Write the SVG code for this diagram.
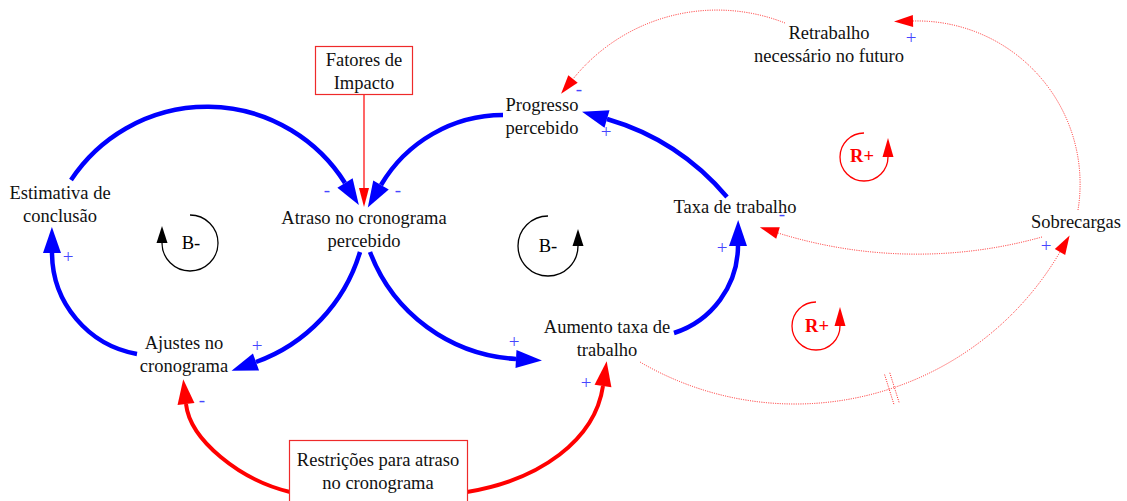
<svg xmlns="http://www.w3.org/2000/svg" width="1127" height="501" viewBox="0 0 1127 501">
  <style>
    .lbl { font-family: "Liberation Serif", "Times New Roman", serif; font-size: 18.5px; fill: #111; text-anchor: middle; }
    .sgn { font-family: "Liberation Serif", "Times New Roman", serif; font-size: 19px; fill: #4646ff; text-anchor: middle; }
    .loop { font-family: "Liberation Serif", "Times New Roman", serif; font-size: 18.5px; text-anchor: middle; }
    .box { fill: #fff; stroke: #ee2a2a; stroke-width: 1.2; }
    .blue { fill: none; stroke: #0000ff; stroke-width: 4.5; stroke-linecap: butt; marker-end: url(#hb); }
    .red { fill: none; stroke: #ff0000; stroke-width: 4; stroke-linecap: butt; marker-end: url(#hr); }
    .dot { fill: none; stroke: #ff2020; stroke-width: 1; stroke-dasharray: 1 1.3; marker-end: url(#hd); }
    .thin { fill: none; stroke: #ff0000; stroke-width: 1.2; marker-end: url(#ht); }
    .delay { fill: none; stroke: #ff2020; stroke-width: 1; stroke-dasharray: 1 1.3; }
    .lb { fill: none; stroke: #000; stroke-width: 1.3; marker-end: url(#hk); }
    .lr { fill: none; stroke: #ff0000; stroke-width: 1.3; marker-end: url(#hkr); }
  </style>
  <defs>
    <marker id="hb" markerUnits="userSpaceOnUse" orient="auto" refX="0" refY="0" markerWidth="30" markerHeight="20" viewBox="0 -10 30 20" overflow="visible">
      <path d="M0,-9 L26,0 L0,9 z" fill="#0000ff"/>
    </marker>
    <marker id="hr" markerUnits="userSpaceOnUse" orient="auto" refX="0" refY="0" markerWidth="30" markerHeight="20" viewBox="0 -10 30 20" overflow="visible">
      <path d="M0,-8.5 L25,0 L0,8.5 z" fill="#ff0000"/>
    </marker>
    <marker id="hd" markerUnits="userSpaceOnUse" orient="auto" refX="0" refY="0" markerWidth="22" markerHeight="14" viewBox="0 -7 22 14" overflow="visible">
      <path d="M0,-6 L19,0 L0,6 z" fill="#ff0000"/>
    </marker>
    <marker id="ht" markerUnits="userSpaceOnUse" orient="auto" refX="0" refY="0" markerWidth="22" markerHeight="12" viewBox="0 -6 22 12" overflow="visible">
      <path d="M0,-5 L19,0 L0,5 z" fill="#ff0000"/>
    </marker>
    <marker id="hk" markerUnits="userSpaceOnUse" orient="auto" refX="0" refY="0" markerWidth="20" markerHeight="12" viewBox="0 -6 20 12" overflow="visible">
      <path d="M0,-5.5 L17,0 L0,5.5 z" fill="#000"/>
    </marker>
    <marker id="hkr" markerUnits="userSpaceOnUse" orient="auto" refX="0" refY="0" markerWidth="22" markerHeight="12" viewBox="0 -6 22 12" overflow="visible">
      <path d="M0,-5.5 L19,0 L0,5.5 z" fill="#ff0000"/>
    </marker>
  </defs>

  <rect width="1127" height="501" fill="#fff"/>

  <!-- causal links -->
  <g id="connectors">
    <!-- balancing loops (blue) -->
    <path class="blue" d="M71,180 A163,163 0 0 1 345,183"/>
    <path class="blue" d="M503,115 A142,142 0 0 0 381,185"/>
    <path class="blue" d="M360,252 A168,168 0 0 1 256,362"/>
    <path class="blue" d="M370,252 A166,166 0 0 0 516,359"/>
    <path class="blue" d="M674,333 A92,92 0 0 0 738,246"/>
    <path class="blue" d="M727,197 A248,248 0 0 0 607,119"/>
    <path class="blue" d="M137,354 A103,103 0 0 1 52,253"/>
    <!-- constraint links (red) -->
    <path class="red" d="M290,492 C240,480 190,440 186,404"/>
    <path class="red" d="M467,492 C540,480 595,440 603,386"/>
    <path class="thin" d="M364,95 L364,188"/>
    <!-- reinforcing links (dotted) -->
    <path class="dot" d="M785,23 A185,185 0 0 0 573,79"/>
    <path class="dot" d="M1078,210 A163,163 0 0 0 913,21"/>
    <path class="dot" d="M1042,237 A466,466 0 0 1 778,233"/>
    <path class="dot" d="M640,362 A307,307 0 0 0 1060,252"/>
    <!-- delay mark -->
    <path class="delay" d="M884.6,374.6 L894.2,405.2 M889.8,372.8 L899.4,403.4"/>

    <!-- polarities -->
    <text class="sgn" x="327" y="196">-</text>
    <text class="sgn" x="398" y="196">-</text>
    <text class="sgn" x="68" y="263">+</text>
    <text class="sgn" x="257" y="352">+</text>
    <text class="sgn" x="202" y="406">-</text>
    <text class="sgn" x="514" y="348">+</text>
    <text class="sgn" x="586" y="389">+</text>
    <text class="sgn" x="722" y="254">+</text>
    <text class="sgn" x="606" y="138">+</text>
    <text class="sgn" x="579" y="95">-</text>
    <text class="sgn" x="911" y="44">+</text>
    <text class="sgn" x="782" y="220">-</text>
    <text class="sgn" x="1046" y="252">+</text>
  </g>

  <!-- loop markers -->
  <g id="loop-b1">
    <path class="lb" d="M190,215 A28,28 0 1 1 162,243"/>
    <text class="loop" x="191" y="249" fill="#000">B-</text>
  </g>
  <g id="loop-b2">
    <path class="lb" d="M548,216 A30,30 0 1 0 578,246"/>
    <text class="loop" x="548" y="252" fill="#000">B-</text>
  </g>
  <g id="loop-r1">
    <path class="lr" d="M864,133 A24,24 0 1 0 888,157"/>
    <text class="loop" x="862" y="162" fill="#ff0000" font-weight="bold">R+</text>
  </g>
  <g id="loop-r2">
    <path class="lr" d="M816,302 A24,24 0 1 0 840,326"/>
    <text class="loop" x="817" y="332" fill="#ff0000" font-weight="bold">R+</text>
  </g>

  <!-- variables -->
  <g id="fatores-impacto">
    <rect class="box" x="315.5" y="46.5" width="97" height="48"/>
    <text class="lbl" x="364" y="66">Fatores de</text>
    <text class="lbl" x="364" y="89">Impacto</text>
  </g>
  <g id="estimativa-conclusao">
    <text class="lbl" x="60" y="199">Estimativa de</text>
    <text class="lbl" x="60" y="222">conclusão</text>
  </g>
  <g id="atraso-cronograma">
    <text class="lbl" x="364" y="224">Atraso no cronograma</text>
    <text class="lbl" x="364" y="247">percebido</text>
  </g>
  <g id="progresso-percebido">
    <text class="lbl" x="542" y="111">Progresso</text>
    <text class="lbl" x="542" y="134">percebido</text>
  </g>
  <g id="retrabalho">
    <text class="lbl" x="829" y="39">Retrabalho</text>
    <text class="lbl" x="829" y="62">necessário no futuro</text>
  </g>
  <g id="taxa-trabalho">
    <text class="lbl" x="735" y="213">Taxa de trabalho</text>
  </g>
  <g id="sobrecargas">
    <text class="lbl" x="1076" y="228">Sobrecargas</text>
  </g>
  <g id="aumento-taxa">
    <text class="lbl" x="607" y="333">Aumento taxa de</text>
    <text class="lbl" x="607" y="356">trabalho</text>
  </g>
  <g id="ajustes-cronograma">
    <text class="lbl" x="184" y="349">Ajustes no</text>
    <text class="lbl" x="184" y="372">cronograma</text>
  </g>
  <g id="restricoes-atraso">
    <rect class="box" x="289.5" y="440.5" width="178" height="70"/>
    <text class="lbl" x="378" y="466">Restrições para atraso</text>
    <text class="lbl" x="378" y="489">no cronograma</text>
  </g>
</svg>
